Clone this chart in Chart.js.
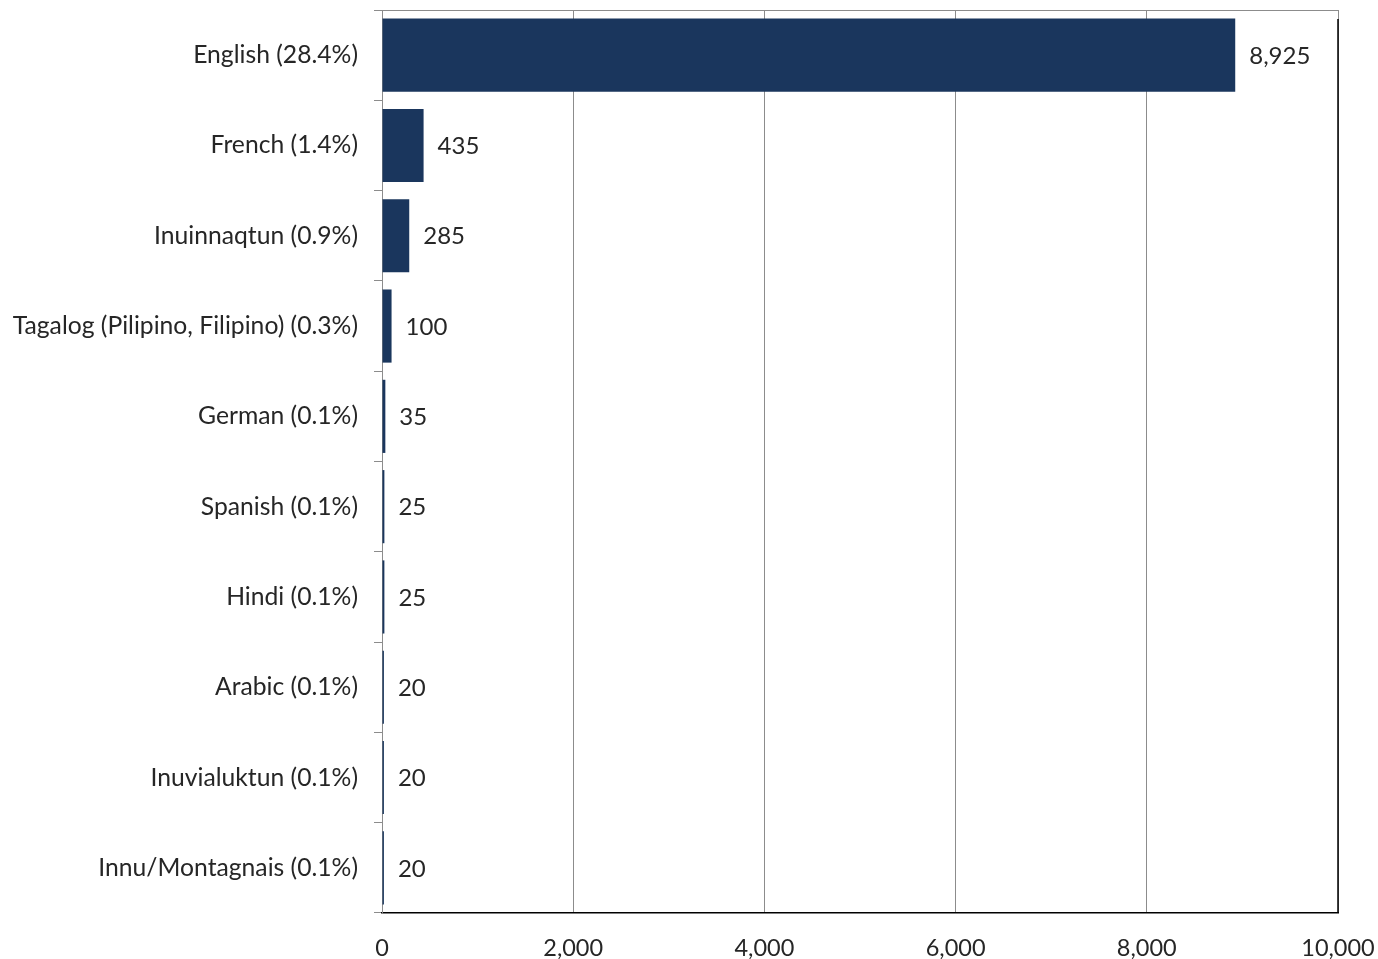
<!DOCTYPE html>
<html>
<head>
<meta charset="utf-8">
<script src="https://cdn.jsdelivr.net/npm/chart.js@4/dist/chart.umd.min.js"></script>
<style>
  html, body { margin: 0; padding: 0; background: #fff; }
  #wrap { width: 1378px; height: 959px; }
</style>
</head>
<body>
<div id="wrap"><canvas id="langChart"></canvas></div>
<script>
// Langues parlées - nombre de personnes
const languages = [
    'English (28.4%)',
    'French (1.4%)',
    'Inuinnaqtun (0.9%)',
    'Tagalog (Pilipino, Filipino) (0.3%)',
    'German (0.1%)',
    'Spanish (0.1%)',
    'Hindi (0.1%)',
    'Arabic (0.1%)',
    'Inuvialuktun (0.1%)',
    'Innu/Montagnais (0.1%)'
];
const speakers = [8925, 435, 285, 100, 35, 25, 25, 20, 20, 20];
const xTicks = [0, 2000, 4000, 6000, 8000, 10000];

const fontFamily = 'Lato, "Open Sans", sans-serif';
const textColor = '#262626';
const gridColor = '#8c8c8c';

// Etiquettes de valeur a droite de chaque barre
const valueLabels = {
    id: 'valueLabels',
    afterDatasetsDraw(chart) {
        const ctx = chart.ctx;
        const meta = chart.getDatasetMeta(0);
        ctx.save();
        ctx.font = '24px ' + fontFamily;
        ctx.fillStyle = textColor;
        ctx.textAlign = 'left';
        ctx.textBaseline = 'middle';
        meta.data.forEach((bar, i) => {
            ctx.fillText(speakers[i].toLocaleString('en-US'), bar.x + 14, bar.y + 1);
        });
        ctx.restore();
    }
};

// Cadre : haut gris, droite noir
const frame = {
    id: 'frame',
    beforeDatasetsDraw(chart) {
        const a = chart.chartArea;
        const ctx = chart.ctx;
        ctx.save();
        ctx.lineWidth = 1;
        ctx.strokeStyle = gridColor;
        ctx.beginPath();
        ctx.moveTo(a.left, a.top + 0.5);
        ctx.lineTo(a.right, a.top + 0.5);
        ctx.stroke();
        ctx.strokeStyle = '#000';
        ctx.lineWidth = 1.5;
        ctx.beginPath();
        ctx.moveTo(a.right, a.top + 9);
        ctx.lineTo(a.right, a.bottom);
        ctx.stroke();
        ctx.restore();
    }
};

document.addEventListener('DOMContentLoaded', () => {
    const ctx = document.getElementById('langChart').getContext('2d');

    new Chart(ctx, {
        type: 'bar',
        data: {
            labels: languages,
            datasets: [{
                data: speakers,
                backgroundColor: '#1a365d',
                borderWidth: 0,
                categoryPercentage: 1,
                barPercentage: 0.81
            }]
        },
        options: {
            indexAxis: 'y',
            responsive: true,
            maintainAspectRatio: false,
            animation: false,
            layout: {
                padding: { top: 10, right: 40, bottom: 0, left: 0 }
            },
            plugins: {
                legend: { display: false },
                tooltip: { enabled: false }
            },
            scales: {
                x: {
                    min: 0,
                    max: 10000,
                    afterBuildTicks(scale) {
                        scale.ticks = xTicks.map(v => ({ value: v }));
                    },
                    afterFit(scale) {
                        scale.height = 46;
                        scale.paddingLeft = 0;
                        scale.paddingRight = 0;
                    },
                    grid: {
                        color: gridColor,
                        lineWidth: 1,
                        drawTicks: false
                    },
                    border: { color: '#000', width: 1.5 },
                    ticks: {
                        padding: 21,
                        color: textColor,
                        maxRotation: 0,
                        font: { family: fontFamily, size: 23.5 },
                        callback: v => v.toLocaleString('en-US')
                    }
                },
                y: {
                    afterFit(scale) {
                        scale.width = 382;
                        scale.paddingTop = 0;
                        scale.paddingBottom = 0;
                    },
                    grid: {
                        color: gridColor,
                        drawOnChartArea: false,
                        drawTicks: true,
                        tickLength: 8,
                        offset: true
                    },
                    border: { color: gridColor, width: 1 },
                    ticks: {
                        padding: 16,
                        color: textColor,
                        font: { family: fontFamily, size: 24.7 }
                    }
                }
            }
        },
        plugins: [frame, valueLabels]
    });
});
</script>
</body>
</html>
